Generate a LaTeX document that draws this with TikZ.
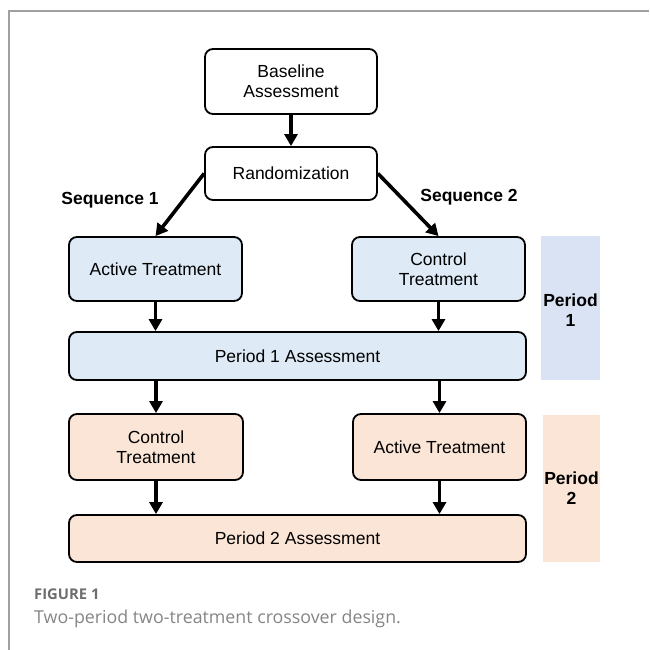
\documentclass[tikz,border=0pt]{standalone}
\usepackage{fontspec}
\setmainfont{Liberation Sans}
\newfontfamily\capfont{Open Sans}
\usetikzlibrary{arrows.meta,calc}
\definecolor{blueF}{HTML}{DEEAF6}
\definecolor{perB}{HTML}{DAE3F3}
\definecolor{orgF}{HTML}{FBE5D6}
\definecolor{frameC}{HTML}{A0A0A0}
\definecolor{capC}{HTML}{858585}
\definecolor{figC}{HTML}{6E6E6E}
\begin{document}
\begin{tikzpicture}[x=1pt,y=-1pt,
  box/.style={draw=black,line width=1.8pt,rounded corners=8pt,align=center,
    font=\fontsize{17.5}{20}\selectfont,inner sep=0pt},
  bluebox/.style={box,fill=blueF},
  orgbox/.style={box,fill=orgF},
  perbox/.style={inner sep=0pt,align=center,font=\fontsize{17.5}{20}\selectfont\bfseries},
  seqlab/.style={inner sep=0pt,font=\fontsize{17.5}{20}\selectfont\bfseries},
  arr/.style={line width=3.6pt,-{Triangle[width=13pt,length=12pt]}}]
\useasboundingbox (0,0) rectangle (649,650);
% frame
\draw[frameC,line width=1.5pt] (9,650) -- (9,11) -- (649,11);
% boxes
\node[box,minimum width=172pt,minimum height=65pt] (base) at (291,81.5) {Baseline\\Assessment};
\node[box,minimum width=172pt,minimum height=53pt] (rand) at (291,173.5) {Randomization};
\node[bluebox,minimum width=173pt,minimum height=64pt] (act1) at (155.5,269) {Active Treatment};
\node[bluebox,minimum width=173pt,minimum height=64pt] (ctl1) at (438.5,269) {Control\\Treatment};
\node[bluebox,minimum width=457pt,minimum height=48pt] (p1a) at (297.5,356) {Period 1 Assessment};
\node[orgbox,minimum width=174pt,minimum height=66pt] (ctl2) at (156,447) {Control\\Treatment};
\node[orgbox,minimum width=173pt,minimum height=66pt] (act2) at (439.5,447) {Active Treatment};
\node[orgbox,minimum width=457pt,minimum height=47pt] (p2a) at (297.5,538.5) {Period 2 Assessment};
% period bands
\node[fill=perB,minimum width=59pt,minimum height=144pt,inner sep=0pt] (per1) at (570.5,308) {};
\node[perbox] (per1t) at (570.5,310) {Period\\1};
\node[fill=orgF,minimum width=57pt,minimum height=147pt,inner sep=0pt] (per2) at (571.5,488.5) {};
\node[perbox] (per2t) at (571.5,488) {Period\\2};
% sequence labels
\node[seqlab] (seq1) at (110,200) {Sequence 1};
\node[seqlab] (seq2) at (469,197) {Sequence 2};
% arrows
\draw[arr] (base.south) -- (rand.north);
\draw[arr] (rand.west) -- (act1.north);
\draw[arr] (rand.east) -- (ctl1.north);
\draw[arr] (act1.south) -- (act1.south |- p1a.north);
\draw[arr] (ctl1.south) -- (ctl1.south |- p1a.north);
\draw[arr] (p1a.south -| ctl2.south) -- (ctl2.north);
\draw[arr] (p1a.south -| act2.south) -- (act2.north);
\draw[arr] (ctl2.south) -- (ctl2.south |- p2a.north);
\draw[arr] (act2.south) -- (act2.south |- p2a.north);
% caption
\node[anchor=west,inner sep=0pt,text=figC,font=\capfont\bfseries\fontsize{14.8}{16}\selectfont] (fig) at (34,594) {FIGURE 1};
\node[anchor=west,inner sep=0pt,text=capC,font=\capfont\fontsize{17.8}{20}\selectfont] (cap) at (34,619) {Two-period two-treatment crossover design.};
\end{tikzpicture}
\end{document}
